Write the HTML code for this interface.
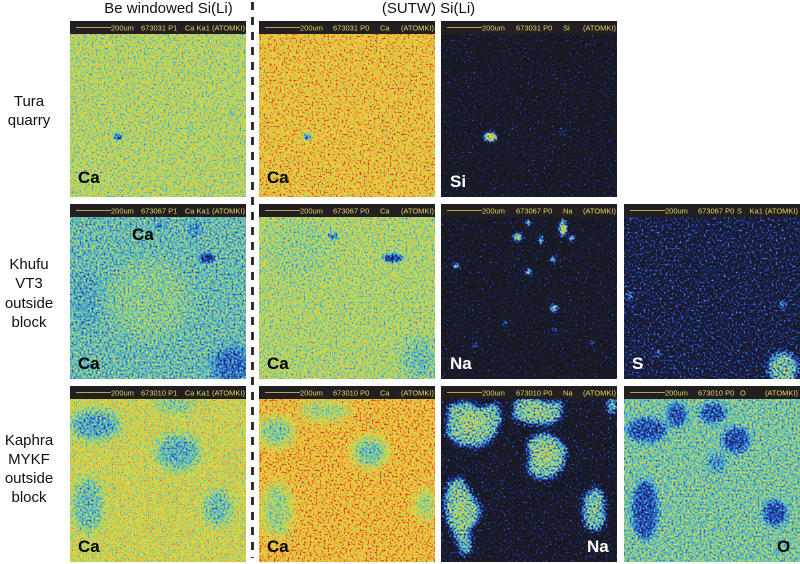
<!DOCTYPE html>
<html><head><meta charset="utf-8">
<style>
html,body{margin:0;padding:0;background:#fff;}
svg{display:block;}
text{font-family:"Liberation Sans",Arial,sans-serif;}
.t{font-size:15px;fill:#111;}
.h{font-size:7.5px;fill:#e2d468;}
.lb{font-size:17px;font-weight:bold;fill:#000;}
.lw{font-size:17px;font-weight:bold;fill:#fff;}
</style></head>
<body>
<svg width="800" height="564" viewBox="0 0 800 564" xmlns="http://www.w3.org/2000/svg">
<defs>
 <filter id="jet" x="0" y="0" width="1" height="1" color-interpolation-filters="sRGB">
  <feTurbulence type="fractalNoise" baseFrequency="0.5" numOctaves="1" seed="3" result="t"/>
  <feColorMatrix in="t" type="matrix" values="1 0 0 0 0  1 0 0 0 0  1 0 0 0 0  0 0 0 0 1" result="n"/>
  <feComposite in="SourceGraphic" in2="n" operator="arithmetic" k1="0" k2="1" k3="0.9" k4="-0.45" result="v"/>
  <feComponentTransfer in="v">
   <feFuncR type="table" tableValues="0.10 0.10 0.16 0.25 0.44 0.75 0.94 0.94 0.88"/>
   <feFuncG type="table" tableValues="0.10 0.16 0.31 0.63 0.78 0.85 0.82 0.56 0.19"/>
   <feFuncB type="table" tableValues="0.13 0.50 0.75 0.82 0.69 0.31 0.25 0.19 0.13"/>
  </feComponentTransfer>
 </filter>
 <filter id="dark" x="0" y="0" width="1" height="1" color-interpolation-filters="sRGB">
  <feTurbulence type="fractalNoise" baseFrequency="0.5" numOctaves="1" seed="7" result="t"/>
  <feColorMatrix in="t" type="matrix" values="1 0 0 0 0  1 0 0 0 0  1 0 0 0 0  0 0 0 0 1" result="n"/>
  <feComposite in="SourceGraphic" in2="n" operator="arithmetic" k1="0" k2="1" k3="1.3" k4="-0.8" result="v"/>
  <feComponentTransfer in="v">
   <feFuncR type="table" tableValues="0.10 0.10 0.16 0.25 0.44 0.75 0.94 0.94 0.88"/>
   <feFuncG type="table" tableValues="0.10 0.16 0.31 0.63 0.78 0.85 0.82 0.56 0.19"/>
   <feFuncB type="table" tableValues="0.13 0.50 0.75 0.82 0.69 0.31 0.25 0.19 0.13"/>
  </feComponentTransfer>
 </filter>
 <filter id="b1" x="-200%" y="-200%" width="500%" height="500%"><feGaussianBlur stdDeviation="1.5"/></filter>
 <filter id="b3" x="-100%" y="-100%" width="300%" height="300%"><feGaussianBlur stdDeviation="3"/></filter>
 <filter id="b5" x="-100%" y="-100%" width="300%" height="300%"><feGaussianBlur stdDeviation="5"/></filter>
 <filter id="b8" x="-100%" y="-100%" width="300%" height="300%"><feGaussianBlur stdDeviation="8"/></filter>
</defs>

<!-- titles -->
<text class="t" x="168.5" y="13" text-anchor="middle">Be windowed Si(Li)</text>
<text class="t" x="428.5" y="13" text-anchor="middle">(SUTW) Si(Li)</text>

<!-- row labels -->
<text class="t" x="29" y="106" text-anchor="middle">Tura</text>
<text class="t" x="29" y="125" text-anchor="middle">quarry</text>
<text class="t" x="29" y="269" text-anchor="middle">Khufu</text>
<text class="t" x="29" y="288" text-anchor="middle">VT3</text>
<text class="t" x="29" y="308" text-anchor="middle">outside</text>
<text class="t" x="29" y="327" text-anchor="middle">block</text>
<text class="t" x="29" y="445" text-anchor="middle">Kaphra</text>
<text class="t" x="29" y="464" text-anchor="middle">MYKF</text>
<text class="t" x="29" y="483" text-anchor="middle">outside</text>
<text class="t" x="29" y="502" text-anchor="middle">block</text>

<!-- dashed divider -->
<line x1="252.5" y1="2" x2="252.5" y2="558" stroke="#222" stroke-width="2.8" stroke-dasharray="8 7"/>

<!-- ROW 1 -->
<svg x="70" y="21" width="176" height="176" viewBox="70 21 176 176" overflow="hidden">
<g filter="url(#jet)">
 <rect x="70" y="21" width="176" height="176" fill="#9c9c9c"/>
 <ellipse cx="118" cy="137" rx="4" ry="3" fill="#262626" filter="url(#b1)"/>
 <ellipse cx="190" cy="130" rx="3" ry="3" fill="#737373" filter="url(#b1)"/>
 <ellipse cx="232" cy="113" rx="2" ry="3" fill="#737373" filter="url(#b1)"/>
</g></svg>
<svg x="259" y="21" width="176" height="176" viewBox="259 21 176 176" overflow="hidden">
<g filter="url(#jet)">
 <rect x="259" y="21" width="176" height="176" fill="#c4c4c4"/>
 <ellipse cx="307" cy="137" rx="4" ry="3" fill="#333" filter="url(#b1)"/>
</g></svg>
<svg x="441" y="21" width="176" height="176" viewBox="441 21 176 176" overflow="hidden">
<g filter="url(#dark)">
 <rect x="441" y="21" width="176" height="176" fill="#080808"/>
 <ellipse cx="490" cy="137" rx="7" ry="5" fill="#b8b8b8" filter="url(#b1)"/>
 <ellipse cx="492" cy="137" rx="3" ry="2.5" fill="#fff" filter="url(#b1)"/>
 <ellipse cx="563" cy="132" rx="3" ry="3" fill="#555" filter="url(#b1)"/>
</g></svg>

<!-- ROW 2 -->
<svg x="70" y="204" width="176" height="175" viewBox="70 204 176 175" overflow="hidden">
<g filter="url(#jet)">
 <rect x="70" y="204" width="176" height="175" fill="#777"/>
 <ellipse cx="150" cy="300" rx="40" ry="40" fill="#878787" filter="url(#b8)"/>
 <ellipse cx="85" cy="300" rx="15" ry="30" fill="#6b6b6b" filter="url(#b5)"/>
 <ellipse cx="232" cy="365" rx="20" ry="18" fill="#484848" filter="url(#b5)"/>
 <ellipse cx="207" cy="258" rx="7" ry="5" fill="#262626" filter="url(#b1)"/>
 <ellipse cx="195" cy="230" rx="6" ry="8" fill="#555" filter="url(#b3)"/>
 <ellipse cx="160" cy="225" rx="5" ry="5" fill="#555" filter="url(#b3)"/>
</g></svg>
<svg x="259" y="204" width="176" height="175" viewBox="259 204 176 175" overflow="hidden">
<g filter="url(#jet)">
 <rect x="259" y="204" width="176" height="175" fill="#999"/>
 <ellipse cx="300" cy="250" rx="30" ry="30" fill="#8e8e8e" filter="url(#b8)"/>
 <ellipse cx="420" cy="360" rx="18" ry="22" fill="#787878" filter="url(#b8)"/>
 <ellipse cx="393" cy="258" rx="10" ry="4" fill="#262626" filter="url(#b1)"/>
 <ellipse cx="333" cy="236" rx="5" ry="3" fill="#404040" filter="url(#b1)"/>
</g></svg>
<svg x="441" y="204" width="176" height="175" viewBox="441 204 176 175" overflow="hidden">
<g filter="url(#dark)">
 <rect x="441" y="204" width="176" height="175" fill="#080808"/>
 <g fill="#b0b0b0" filter="url(#b1)">
  <ellipse cx="518" cy="237" rx="5" ry="4"/>
  <ellipse cx="528" cy="223" rx="3" ry="3"/>
  <ellipse cx="563" cy="228" rx="4" ry="9"/>
  <ellipse cx="572" cy="238" rx="3" ry="3"/>
  <ellipse cx="553" cy="259" rx="3" ry="3"/>
  <ellipse cx="456" cy="266" rx="3" ry="3"/>
  <ellipse cx="529" cy="272" rx="4" ry="3"/>
  <ellipse cx="554" cy="308" rx="4" ry="4"/>
  <ellipse cx="541" cy="240" rx="2" ry="5"/>
  <ellipse cx="505" cy="323" rx="2" ry="2"/>
  <ellipse cx="475" cy="345" rx="2" ry="2"/>
  <ellipse cx="555" cy="330" rx="2" ry="2"/>
  <ellipse cx="592" cy="343" rx="2" ry="2"/>
 </g>
 <g fill="#f0f0f0" filter="url(#b1)">
  <ellipse cx="518" cy="237" rx="2" ry="2"/>
  <ellipse cx="564" cy="230" rx="2" ry="3"/>
  <ellipse cx="456" cy="266" rx="1.5" ry="1.5"/>
 </g>
</g></svg>
<svg x="624" y="204" width="176" height="175" viewBox="624 204 176 175" overflow="hidden">
<g filter="url(#dark)">
 <rect x="624" y="204" width="176" height="175" fill="#2a2a2a"/>
 <ellipse cx="783" cy="368" rx="15" ry="16" fill="#a0a0a0" filter="url(#b3)"/>
 <ellipse cx="783" cy="305" rx="3" ry="4" fill="#888" filter="url(#b1)"/>
 <ellipse cx="630" cy="297" rx="3" ry="5" fill="#777" filter="url(#b1)"/>
 <ellipse cx="658" cy="353" rx="3" ry="3" fill="#777" filter="url(#b1)"/>
</g></svg>

<!-- ROW 3 -->
<svg x="70" y="386" width="176" height="176" viewBox="70 386 176 176" overflow="hidden">
<g filter="url(#jet)">
 <rect x="70" y="386" width="176" height="176" fill="#aaaaaa"/>
 <ellipse cx="95" cy="425" rx="25" ry="15" fill="#666" filter="url(#b5)"/>
 <ellipse cx="175" cy="405" rx="20" ry="8" fill="#808080" filter="url(#b5)"/>
 <ellipse cx="178" cy="452" rx="22" ry="18" fill="#6e6e6e" filter="url(#b5)"/>
 <ellipse cx="88" cy="505" rx="15" ry="28" fill="#777" filter="url(#b5)"/>
 <ellipse cx="218" cy="508" rx="14" ry="18" fill="#777" filter="url(#b5)"/>
</g></svg>
<svg x="259" y="386" width="176" height="176" viewBox="259 386 176 176" overflow="hidden">
<g filter="url(#jet)">
 <rect x="259" y="386" width="176" height="176" fill="#c9c9c9"/>
 <ellipse cx="276" cy="432" rx="18" ry="15" fill="#858585" filter="url(#b5)"/>
 <ellipse cx="325" cy="411" rx="25" ry="10" fill="#909090" filter="url(#b5)"/>
 <ellipse cx="370" cy="452" rx="17" ry="15" fill="#7a7a7a" filter="url(#b5)"/>
 <ellipse cx="277" cy="510" rx="15" ry="28" fill="#909090" filter="url(#b5)"/>
 <ellipse cx="425" cy="505" rx="10" ry="15" fill="#909090" filter="url(#b5)"/>
</g></svg>
<svg x="441" y="386" width="176" height="176" viewBox="441 386 176 176" overflow="hidden">
<g filter="url(#dark)">
 <rect x="441" y="386" width="176" height="176" fill="#101010"/>
 <g fill="#a0a0a0" filter="url(#b3)">
  <path d="M448 405 L470 400 L478 408 L498 402 L502 420 L494 438 L480 448 L460 446 L446 436 Z"/>
  <path d="M514 400 L530 396 L548 402 L562 400 L562 418 L548 426 L528 424 L512 418 Z"/>
  <path d="M526 442 L540 432 L556 436 L567 448 L564 468 L552 478 L538 480 L526 470 L530 458 Z"/>
  <path d="M448 482 L462 476 L470 492 L482 508 L478 522 L470 530 L472 552 L462 556 L456 540 L446 520 L444 500 Z"/>
  <path d="M584 496 L596 486 L604 494 L606 520 L598 532 L586 528 L582 512 Z"/>
  <ellipse cx="612" cy="405" rx="5" ry="10"/>
 </g>
 <g fill="#bcbcbc" filter="url(#b5)">
  <ellipse cx="472" cy="422" rx="14" ry="10"/>
  <ellipse cx="545" cy="455" rx="11" ry="11"/>
  <ellipse cx="462" cy="510" rx="7" ry="18"/>
  <ellipse cx="536" cy="411" rx="12" ry="5"/>
 </g>
</g></svg>
<svg x="624" y="386" width="176" height="176" viewBox="624 386 176 176" overflow="hidden">
<g filter="url(#jet)">
 <rect x="624" y="386" width="176" height="176" fill="#808080"/>
 <g fill="#3a3a3a" filter="url(#b3)">
  <ellipse cx="647" cy="430" rx="20" ry="12"/>
  <ellipse cx="677" cy="415" rx="10" ry="12"/>
  <ellipse cx="713" cy="413" rx="13" ry="10"/>
  <ellipse cx="736" cy="440" rx="14" ry="13"/>
  <ellipse cx="645" cy="510" rx="13" ry="30"/>
  <ellipse cx="775" cy="513" rx="12" ry="13"/>
 </g>
 <ellipse cx="717" cy="463" rx="10" ry="10" fill="#5e5e5e" filter="url(#b3)"/>
</g></svg>

<!-- headers -->
<g fill="#231f20">
 <rect x="70" y="21" width="176" height="13"/>
 <rect x="259" y="21" width="176" height="13"/>
 <rect x="441" y="21" width="176" height="13"/>
 <rect x="70" y="204" width="176" height="13"/>
 <rect x="259" y="204" width="176" height="13"/>
 <rect x="441" y="204" width="176" height="13"/>
 <rect x="624" y="204" width="176" height="13"/>
 <rect x="70" y="386" width="176" height="13"/>
 <rect x="259" y="386" width="176" height="13"/>
 <rect x="441" y="386" width="176" height="13"/>
 <rect x="624" y="386" width="176" height="13"/>
</g>
<g stroke="#e2d468" stroke-width="0.8">
 <line x1="76" y1="27.5" x2="111" y2="27.5"/>
 <line x1="265" y1="27.5" x2="300" y2="27.5"/>
 <line x1="447" y1="27.5" x2="482" y2="27.5"/>
 <line x1="76" y1="210.5" x2="111" y2="210.5"/>
 <line x1="265" y1="210.5" x2="300" y2="210.5"/>
 <line x1="447" y1="210.5" x2="482" y2="210.5"/>
 <line x1="630" y1="210.5" x2="665" y2="210.5"/>
 <line x1="76" y1="392.5" x2="111" y2="392.5"/>
 <line x1="265" y1="392.5" x2="300" y2="392.5"/>
 <line x1="447" y1="392.5" x2="482" y2="392.5"/>
 <line x1="630" y1="392.5" x2="665" y2="392.5"/>
</g>
<text class="h" x="111" y="30.5">200um</text><text class="h" x="141" y="30.5">673031 P1</text><text class="h" x="245" y="30.5" text-anchor="end">Ca Ka1 (ATOMKI)</text>
<text class="h" x="300" y="30.5">200um</text><text class="h" x="333" y="30.5">673031 P0</text><text class="h" x="380" y="30.5">Ca</text><text class="h" x="434" y="30.5" text-anchor="end">(ATOMKI)</text>
<text class="h" x="482" y="30.5">200um</text><text class="h" x="516" y="30.5">673031 P0</text><text class="h" x="563" y="30.5">Si</text><text class="h" x="616" y="30.5" text-anchor="end">(ATOMKI)</text>

<text class="h" x="111" y="213.5">200um</text><text class="h" x="141" y="213.5">673067 P1</text><text class="h" x="245" y="213.5" text-anchor="end">Ca Ka1 (ATOMKI)</text>
<text class="h" x="300" y="213.5">200um</text><text class="h" x="333" y="213.5">673067 P0</text><text class="h" x="380" y="213.5">Ca</text><text class="h" x="434" y="213.5" text-anchor="end">(ATOMKI)</text>
<text class="h" x="482" y="213.5">200um</text><text class="h" x="516" y="213.5">673067 P0</text><text class="h" x="563" y="213.5">Na</text><text class="h" x="616" y="213.5" text-anchor="end">(ATOMKI)</text>
<text class="h" x="665" y="213.5">200um</text><text class="h" x="698" y="213.5">673067 P0</text><text class="h" x="737" y="213.5">S</text><text class="h" x="798" y="213.5" text-anchor="end">Ka1 (ATOMKI)</text>

<text class="h" x="111" y="395.5">200um</text><text class="h" x="141" y="395.5">673010 P1</text><text class="h" x="245" y="395.5" text-anchor="end">Ca Ka1 (ATOMKI)</text>
<text class="h" x="300" y="395.5">200um</text><text class="h" x="333" y="395.5">673010 P0</text><text class="h" x="380" y="395.5">Ca</text><text class="h" x="434" y="395.5" text-anchor="end">(ATOMKI)</text>
<text class="h" x="482" y="395.5">200um</text><text class="h" x="516" y="395.5">673010 P0</text><text class="h" x="563" y="395.5">Na</text><text class="h" x="616" y="395.5" text-anchor="end">(ATOMKI)</text>
<text class="h" x="665" y="395.5">200um</text><text class="h" x="698" y="395.5">673010 P0</text><text class="h" x="740" y="395.5">O</text><text class="h" x="798" y="395.5" text-anchor="end">(ATOMKI)</text>

<!-- panel labels -->
<text class="lb" x="78" y="183">Ca</text>
<text class="lb" x="267" y="183">Ca</text>
<text class="lw" x="450" y="187">Si</text>

<text class="lb" x="132" y="240">Ca</text>
<text class="lb" x="78" y="369">Ca</text>
<text class="lb" x="267" y="369">Ca</text>
<text class="lw" x="450" y="369">Na</text>
<text class="lw" x="632" y="369">S</text>

<text class="lb" x="78" y="552">Ca</text>
<text class="lb" x="267" y="552">Ca</text>
<text class="lw" x="587" y="552">Na</text>
<text class="lb" x="777" y="552">O</text>
</svg>
</body></html>
